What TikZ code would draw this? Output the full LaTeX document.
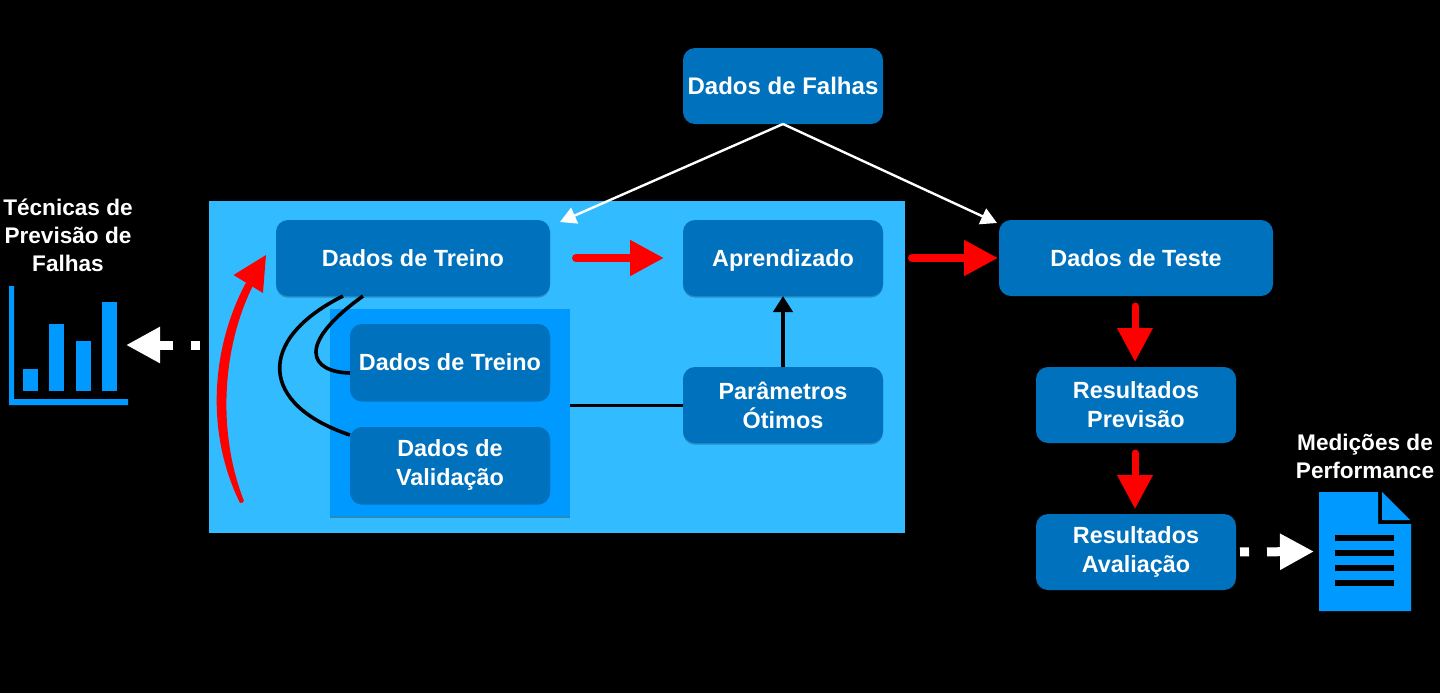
\documentclass[tikz,border=0pt]{standalone}
\usepackage{fontspec}
\setmainfont{Liberation Sans}
\usetikzlibrary{positioning,arrows.meta,shadows}

\definecolor{boxblue}{RGB}{0,113,188}
\definecolor{panelblue}{RGB}{51,187,255}
\definecolor{innerblue}{RGB}{0,153,255}

\tikzset{
  blockbox/.style={fill=boxblue, text=white, font=\fontsize{11.7}{14.5}\selectfont\bfseries, align=center,
    rounded corners=6pt, inner sep=0pt, outer sep=0pt, minimum width=100pt, minimum height=38pt,
    drop shadow={shadow xshift=0pt, shadow yshift=-.8pt, opacity=.25, fill=black}},
  widebox/.style={blockbox, minimum width=137pt},
  panelbox/.style={inner sep=0pt, outer sep=0pt},
  outlabel/.style={text=white, font=\fontsize{11.3}{14}\selectfont\bfseries, align=center, inner sep=0pt},
  redarrow/.style={draw=red, line width=4pt, line cap=round, -{Triangle[length=17pt,width=17pt,fill=red]}},
  whitearrow/.style={draw=white, line width=1.2pt, -{Triangle[length=8pt,width=8.5pt,fill=white]}},
  blackline/.style={draw=black, line width=1.8pt},
  dotarrow/.style={draw=white, line width=4.5pt, dash pattern=on 4.5pt off 9pt on 30pt,
    -{Triangle[length=17pt,width=17pt,fill=white]}},
}

\begin{document}
\begin{tikzpicture}[x=0.5pt, y=-0.5pt]
  \useasboundingbox (0,0) rectangle (1440,693);
  \fill[black] (0,0) rectangle (1440,693);

  \node[panelbox, fill=panelblue, minimum width=348pt, minimum height=166pt] (panel) at (557,367) {};
  \node[panelbox, fill=innerblue, minimum width=120pt, minimum height=103.5pt,
    drop shadow={shadow xshift=0pt, shadow yshift=-.8pt, opacity=.25, fill=black}] (innerpanel) at (450,412.5) {};

  \node[widebox] (treino) at (413,258) {Dados de Treino};
  \node[blockbox, text depth=0pt, right=66.5pt of treino] (aprendizado) {Aprendizado};
  \node[blockbox, font=\fontsize{12}{14.5}\selectfont\bfseries, above=48pt of aprendizado] (falhas) {Dados de Falhas};
  \node[widebox, right=58pt of aprendizado] (teste) {Dados de Teste};
  \node[blockbox, below=35.5pt of aprendizado] (parametros) {Parâmetros\\Ótimos};
  \node[blockbox, below left=14pt and 0pt of treino.south east] (subtreino) {Dados de Treino};
  \node[blockbox, below=13.5pt of subtreino] (validacao) {Dados de\\Validação};
  \node[blockbox, below=35.5pt of teste] (previsao) {Resultados\\Previsão};
  \node[blockbox, below=35.5pt of previsao] (avaliacao) {Resultados\\Avaliação};

  \node[outlabel] (tecnicas) at (68,235) {Técnicas de\\Previsão de\\Falhas};
  \node[outlabel] (medicoes) at (1365,456.5) {Medições de\\Performance};

  % bar chart
  \fill[innerblue] (9,286) -- (14,286) -- (14,399) -- (128,399) -- (128,405) -- (9,405) -- cycle;
  \foreach \bx/\btop in {23/369, 49/324, 76/341, 102/302}
    \fill[innerblue] (\bx,\btop) rectangle (\bx+15,391);

  % report page
  \fill[innerblue] (1319,492) -- (1378,492) -- (1378,524) -- (1411,524) -- (1411,611) -- (1319,611) -- cycle;
  \fill[innerblue] (1382,492) -- (1382,520) -- (1410,520) -- cycle;
  \foreach \ly in {538,553,568,582.5}
    \fill[black] (1335,\ly-3) rectangle (1394,\ly+3);

  \coordinate (whitetipa) at (560,222);
  \coordinate (whitetipb) at (997,223);
  \coordinate (redstart) at (242,502);
  \coordinate (redend) at (266,255);
  \coordinate (chartend) at (126,345);
  \coordinate (pageend) at (1314,551.5);

  \draw[whitearrow] (falhas.south) -- (whitetipa);
  \draw[whitearrow] (falhas.south) -- (whitetipb);

  \draw[redarrow, shorten <=13pt, shorten >=9.5pt] (treino.east) -- (aprendizado.west);
  \draw[redarrow, shorten <=14.5pt, shorten >=0.5pt] (aprendizado.east) -- (teste.west);
  \draw[redarrow, line width=3.5pt, shorten <=5pt, shorten >=2.5pt] ([xshift=-.5pt]teste.south) -- ([xshift=-.5pt]previsao.north);
  \draw[redarrow, line width=3.5pt, shorten <=5pt, shorten >=2.5pt] ([xshift=-.5pt]previsao.south) -- ([xshift=-.5pt]avaliacao.north);
  % long one gets thicker in the middle
  \fill[red] (240,503) .. controls (204,430) and (211,340) .. (252,272) -- (258,276)
    .. controls (222,340) and (216,430) .. (244,501) -- cycle;
  \draw[redarrow, line width=1pt] (redstart) .. controls (208,430) and (214,340) .. (redend);

  \draw[blackline] ([xshift=-25pt]treino.south) .. controls (295,345) and (310,372) .. ([yshift=-5.5pt]subtreino.west);
  \draw[blackline] ([xshift=-35pt]treino.south) .. controls (255,340) and (260,405) .. ([yshift=15pt]validacao.west);
  \draw[blackline, line width=1.5pt] (parametros.west) -- (parametros.west -| innerpanel.east);
  \draw[blackline, line width=2pt, -{Triangle[length=8pt,width=9.5pt,fill=black]}] (parametros.north) -- (aprendizado.south);

  \draw[dotarrow, shorten <=4.5pt] (panel.west |- chartend) -- (chartend);
  \draw[dotarrow, shorten <=2pt] (avaliacao.east) -- (pageend);
\end{tikzpicture}
\end{document}
